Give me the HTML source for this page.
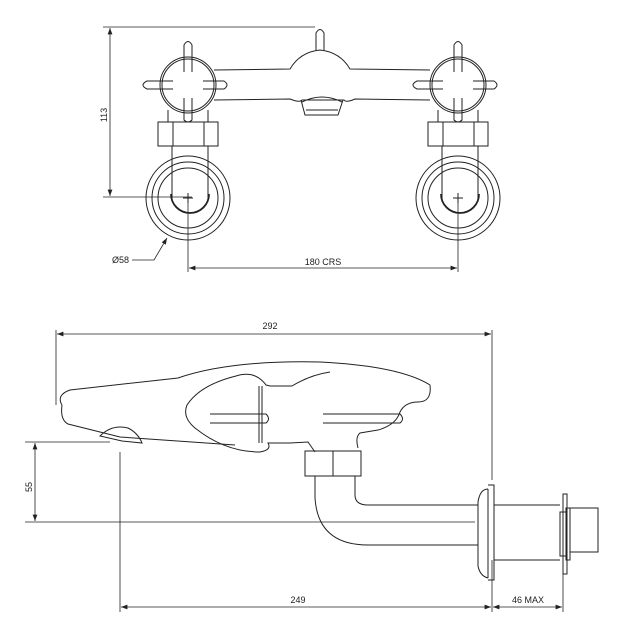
<!DOCTYPE html>
<html><head><style>
html,body{margin:0;padding:0;background:#fff;}
svg{display:block;}
text{font-family:"Liberation Sans",sans-serif;font-size:9px;fill:#222;}
</style></head><body>
<svg width="619" height="632" viewBox="0 0 619 632" fill="none" stroke="#222" stroke-width="1">
<defs><marker id="a" markerWidth="8" markerHeight="6" refX="8" refY="3" orient="auto-start-reverse"><path d="M0,0 L8,3 L0,6 z" fill="#222" stroke="none"/></marker></defs>
<!-- TOP VIEW -->
<line x1="103" y1="27" x2="315" y2="27" stroke-width="0.8"/>
<line x1="103" y1="197" x2="192" y2="197" stroke-width="0.8"/>
<line x1="110" y1="28" x2="110" y2="196" stroke-width="0.8" marker-start="url(#a)" marker-end="url(#a)"/>
<text x="0" y="0" transform="translate(107,115) rotate(-90)" text-anchor="middle" stroke="none">113</text>
<!-- body -->
<path d="M214,70 L290,69 Q300,52 320,50 Q340,52 350,69 L430,70"/>
<path d="M214,100 L290,99 Q300,103 302,100 L344,100 Q346,103 355,99 L430,100"/>
<path d="M301,100 L305,115 L338,115 L343,100 M302,102 Q322,92 342,102 M306,110 L338,110"/>
<path d="M316,50 L316,33 Q320,26 324,33 L324,50"/>
<!-- handles -->
<g id="h">
<circle cx="188" cy="85" r="28"/>
<circle cx="188" cy="85" r="26"/>
<path d="M184,72 L184,45 Q188,38 192,45 L192,72 M184,98 L184,120 Q188,124 192,120 L192,98"/>
<path d="M173,81 L147,81 Q139,85 147,89 L173,89 M203,81 L224,81 Q230,85 224,89 L203,89"/>
<path d="M168,110 L168,122 M208,110 L208,122"/>
<rect x="158" y="122" width="60" height="24"/>
<path d="M173,122 L173,146 M204,122 L204,146"/>
<path d="M172,146 L172,200 M208,146 L208,200"/>
<circle cx="188" cy="198" r="42"/>
<circle cx="188" cy="198" r="36"/>
<circle cx="188" cy="198" r="30"/>
<path d="M171,194 A18,18 0 0 0 209,194" stroke-width="1.8"/>
<path d="M183,198 L193,198 M188,193 L188,203"/>
<line x1="188" y1="203" x2="188" y2="272" stroke-width="0.8"/>
</g>
<use href="#h" transform="translate(270,0)"/>
<line x1="189" y1="268" x2="457" y2="268" stroke-width="0.8" marker-start="url(#a)" marker-end="url(#a)"/>
<text x="323" y="265" text-anchor="middle" stroke="none">180 CRS</text>
<text x="112" y="263" stroke="none">Ø58</text>
<path d="M132,260 L154,260 L167,238" stroke-width="0.8" marker-end="url(#a)"/>
<!-- SIDE VIEW -->
<line x1="56" y1="330" x2="56" y2="405" stroke-width="0.8"/>
<line x1="492" y1="330" x2="492" y2="480" stroke-width="0.8"/>
<line x1="57" y1="334" x2="491" y2="334" stroke-width="0.8" marker-start="url(#a)" marker-end="url(#a)"/>
<text x="270" y="329" text-anchor="middle" stroke="none">292</text>
<path d="M62,405 Q56,395 70,390 L178,378 Q230,360 320,362 Q400,366 430,385 Q432,402 418,402 Q405,402 400,412 Q396,425 378,430 L360,433 Q355,437 358,448"/>
<path d="M62,405 Q60,420 68,424 L120,437 L235,445"/>
<path d="M100,436 Q112,424 128,428 Q138,433 142,443 L122,441 Z"/>
<path d="M270,386 L266,385 Q255,370 236,376 Q200,385 187,405 Q182,417 195,428 Q225,452 260,452 Q272,450 268,443 L290,443 L308,442 L315,452"/>
<path d="M270,386 L292,386 Q310,375 330,372"/>
<path d="M259,386 L259,443 M262,386 L262,443"/>
<path d="M210,423 L266,423 Q271,419 266,414 L210,414 M323,423 L400,423 Q405,419 400,414 L323,414"/>
<rect x="305" y="451" width="56" height="25"/>
<line x1="333" y1="451" x2="333" y2="476"/>
<path d="M315,476 L315,498 Q318,545 368,545 L478,545"/>
<path d="M355,476 L355,495 Q355,505 368,505 L478,505"/>
<line x1="25" y1="522" x2="475" y2="522" stroke-width="0.8"/>
<line x1="25" y1="442" x2="110" y2="442" stroke-width="0.8"/>
<line x1="35" y1="443" x2="35" y2="521" stroke-width="0.8" marker-start="url(#a)" marker-end="url(#a)"/>
<text x="0" y="0" transform="translate(32,487) rotate(-90)" text-anchor="middle" stroke="none">55</text>
<path d="M488,489 L488,578 M488,489 Q480,489 478,502 L478,566 Q480,576 488,578 M488,485 L494,485 L494,580 L488,580"/>
<path d="M494,505 L560,505 M494,560 L560,560"/>
<rect x="560" y="512" width="6" height="44"/>
<rect x="563" y="494" width="4" height="80"/>
<rect x="566" y="508" width="4" height="52"/>
<rect x="570" y="508" width="28" height="44"/>
<line x1="120" y1="452" x2="120" y2="612" stroke-width="0.8"/>
<line x1="492" y1="560" x2="492" y2="612" stroke-width="0.8"/>
<line x1="563" y1="563" x2="563" y2="612" stroke-width="0.8"/>
<line x1="121" y1="607" x2="491" y2="607" stroke-width="0.8" marker-start="url(#a)" marker-end="url(#a)"/>
<line x1="493" y1="607" x2="562" y2="607" stroke-width="0.8" marker-start="url(#a)" marker-end="url(#a)"/>
<text x="298" y="603" text-anchor="middle" stroke="none">249</text>
<text x="528" y="603" text-anchor="middle" stroke="none">46 MAX</text>
</svg>
</body></html>
